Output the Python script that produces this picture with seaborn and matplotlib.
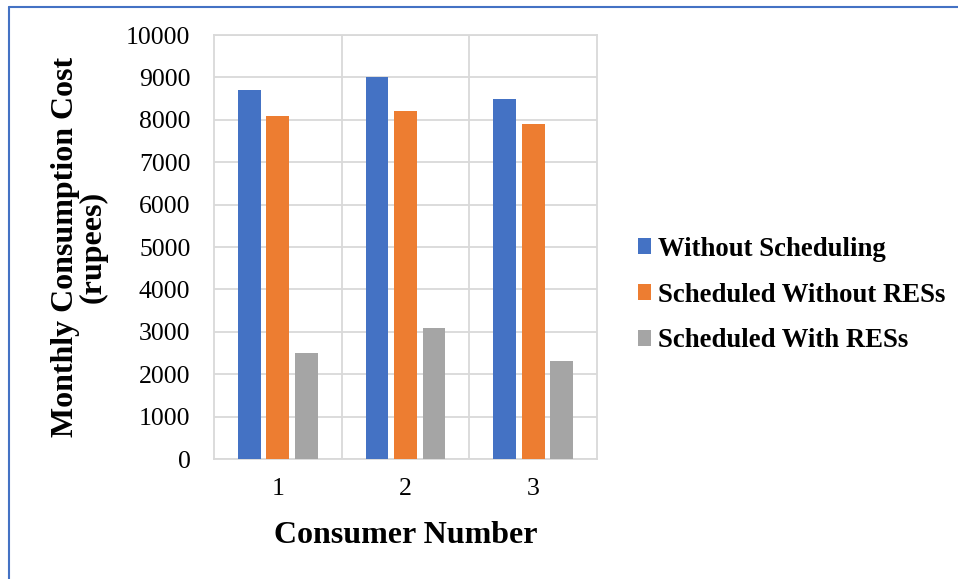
import matplotlib
matplotlib.use("Agg")
import matplotlib.pyplot as plt
from matplotlib.lines import Line2D
from matplotlib.patches import Patch
import pandas as pd
import seaborn as sns

# Monthly consumption cost per consumer (rupees)
consumers = ["1", "2", "3"]
series_names = ["Without Scheduling", "Scheduled Without RESs", "Scheduled With RESs"]
without_scheduling = [8700, 9000, 8500]
scheduled_without_res = [8100, 8200, 7900]
scheduled_with_res = [2500, 3100, 2300]
series_colors = ["#4472C4", "#ED7D31", "#A5A5A5"]
y_ticks = [0, 1000, 2000, 3000, 4000, 5000, 6000, 7000, 8000, 9000, 10000]

rows = []
for name, values in zip(series_names,
                        [without_scheduling, scheduled_without_res, scheduled_with_res]):
    for c, v in zip(consumers, values):
        rows.append({"Consumer": c, "Series": name, "Cost": v})
df = pd.DataFrame(rows)

sns.set_theme(style="white")
plt.rcParams["font.family"] = ["Liberation Serif", "DejaVu Serif"]
plt.rcParams["text.color"] = "black"

fig = plt.figure(figsize=(9.58, 5.79), dpi=100)
ax = fig.add_axes([214 / 958, 1 - 459 / 579, 383 / 958, 424 / 579])

sns.barplot(data=df, x="Consumer", y="Cost", hue="Series", order=consumers,
            hue_order=series_names, palette=series_colors, width=0.667, gap=0.2,
            linewidth=0, saturation=1, ax=ax, legend=False, zorder=3)

grid_color = "#D9D9D9"
ax.set_xlim(-0.5, 2.5)
ax.set_ylim(0, 10000)
ax.set_yticks(y_ticks)
ax.set_yticklabels([str(t) for t in y_ticks])
ax.set_xticks(range(len(consumers)))
ax.set_xticklabels(consumers)
ax.set_xticks([0.5, 1.5], minor=True)
ax.grid(True, axis="y", color=grid_color, linewidth=1.3, zorder=0)
ax.grid(True, axis="x", which="minor", color=grid_color, linewidth=1.3, zorder=0)
ax.set_axisbelow(True)
for s in ax.spines.values():
    s.set_visible(True)
    s.set_color(grid_color)
    s.set_linewidth(1.3)

ax.tick_params(axis="both", which="both", length=0, labelsize=18.5, labelcolor="black")
ax.tick_params(axis="y", pad=17)
ax.tick_params(axis="x", pad=14)

ax.set_xlabel("Consumer Number", fontsize=23, fontweight="bold", color="black")
ax.xaxis.set_label_coords(0.5, -0.18)
ax.xaxis.label.set_va("center")
ax.set_ylabel("Monthly Consumption Cost\n(rupees)", fontsize=23, fontweight="bold",
              color="black", linespacing=0.95)
ax.yaxis.set_label_coords(-0.352, 0.5)
ax.yaxis.label.set_va("center")

handles = [Patch(facecolor=c, edgecolor="none") for c in series_colors]
fig.legend(handles, series_names, loc="center left",
           bbox_to_anchor=(638 / 958, 1 - 295 / 579), frameon=False,
           prop={"family": ["Liberation Serif"], "weight": "bold", "size": 19.3},
           labelcolor="black",
           handlelength=0.5, handleheight=0.5, handletextpad=0.25,
           labelspacing=0.78, borderpad=0, borderaxespad=0)

# Thin blue frame along the top and left edges of the canvas
frame_color = "#4472C4"
fig.add_artist(Line2D([9 / 958, 1], [1 - 7 / 579, 1 - 7 / 579], color=frame_color,
                      linewidth=1.5, transform=fig.transFigure))
fig.add_artist(Line2D([9 / 958, 9 / 958], [0, 1 - 7 / 579], color=frame_color,
                      linewidth=1.5, transform=fig.transFigure))

fig.savefig("out.png", dpi=100, facecolor="white")
